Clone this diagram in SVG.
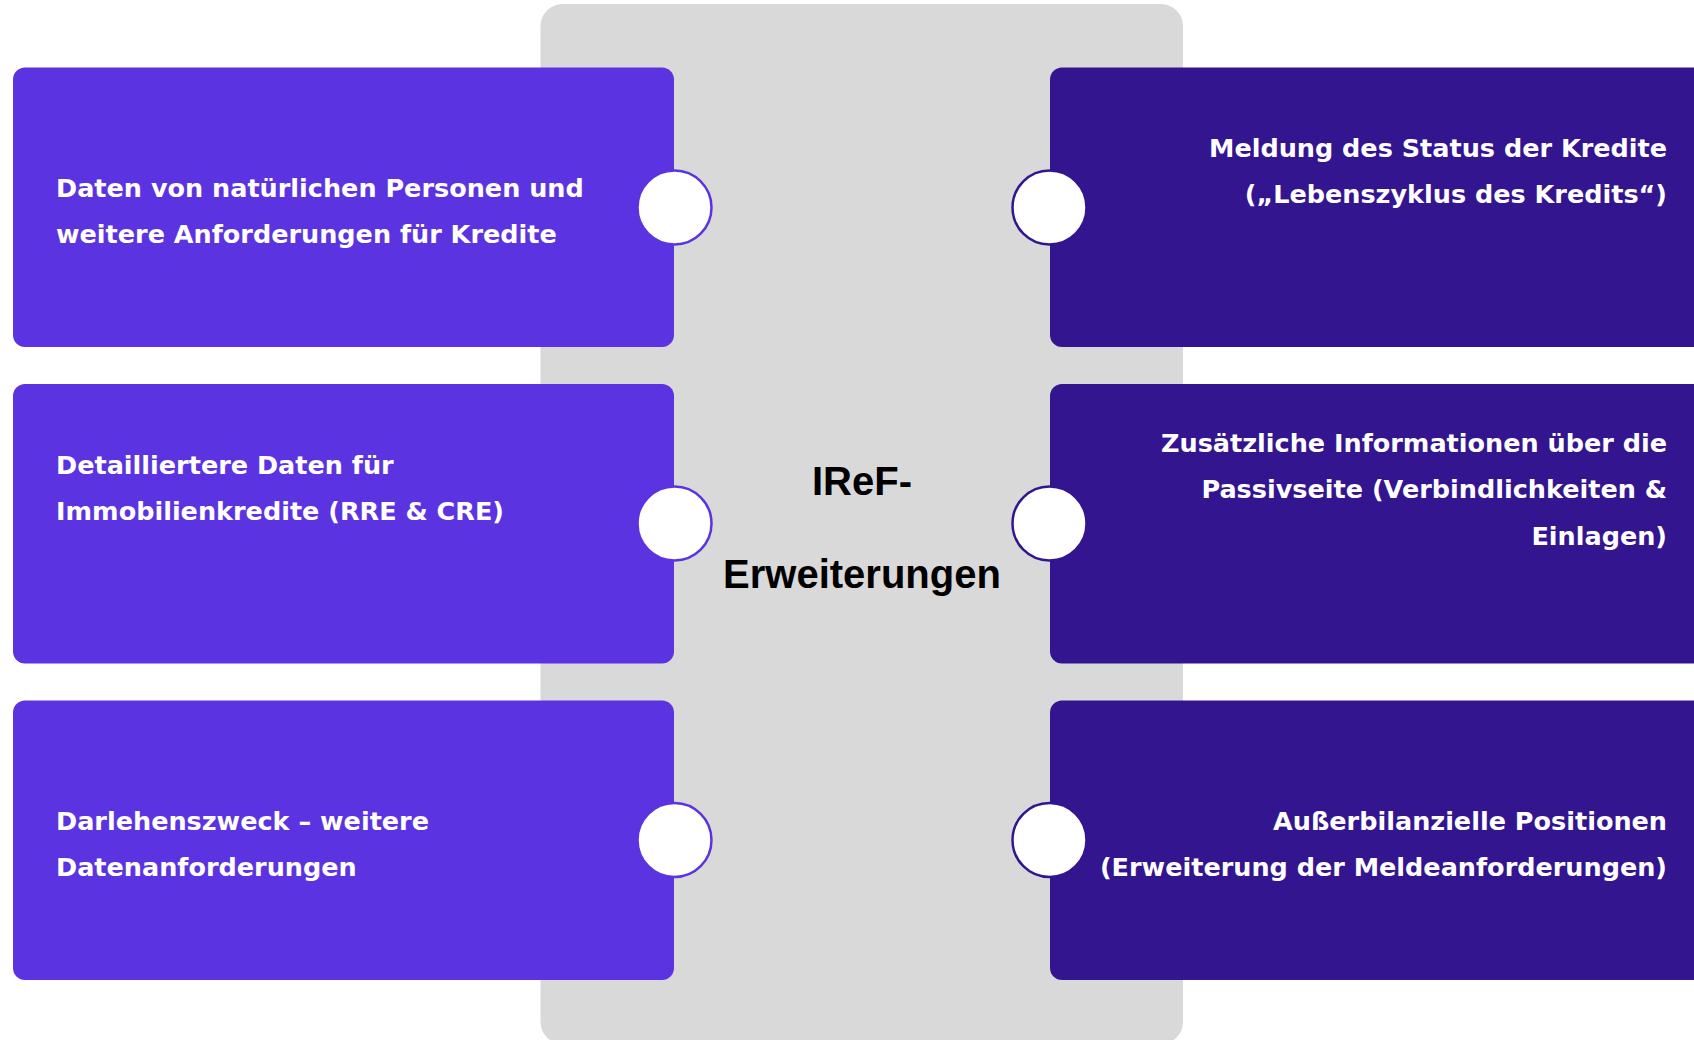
<svg xmlns="http://www.w3.org/2000/svg" width="1694" height="1040" viewBox="0 0 1694 1040">
  <style>
    .boxL { fill: #5C33E1; }
    .boxR { fill: #331590; }
    .dotL { fill: #FFFFFF; stroke: #5C33E1; stroke-width: 2.5; }
    .dotR { fill: #FFFFFF; stroke: #331590; stroke-width: 2.5; }
    .t { font-family: "DejaVu Sans", "Liberation Sans", sans-serif; font-weight: 700; font-size: 25.5px; fill: #FFFFFF; }
    .tl { text-anchor: start; }
    .tr { text-anchor: end; }
    .center { font-family: "Liberation Sans", Arial, sans-serif; font-weight: 700; font-size: 40px; fill: #000000; text-anchor: middle; }
  </style>
  <rect width="1694" height="1040" fill="#FFFFFF"/>
  <g id="hub">
    <rect x="540.5" y="4" width="642.5" height="1040" rx="22" fill="#D9D9D9"/>
    <text class="center" x="862" y="495">IReF-</text>
    <text class="center" x="862" y="588">Erweiterungen</text>
  </g>
  <g id="connectors"/>
  <g id="node-left-1">
    <rect class="boxL" x="13" y="67.5" width="661" height="279.5" rx="12"/>
    <circle class="dotL" cx="674.5" cy="207.5" r="37"/>
    <text class="t tl" x="56" y="196.5">Daten von natürlichen Personen und</text>
    <text class="t tl" x="56" y="242.5">weitere Anforderungen für Kredite</text>
  </g>
  <g id="node-left-2">
    <rect class="boxL" x="13" y="384" width="661" height="279.5" rx="12"/>
    <circle class="dotL" cx="674.5" cy="523.5" r="37"/>
    <text class="t tl" x="56" y="474">Detailliertere Daten für</text>
    <text class="t tl" x="56" y="520">Immobilienkredite (RRE &amp; CRE)</text>
  </g>
  <g id="node-left-3">
    <rect class="boxL" x="13" y="700.5" width="661" height="279.5" rx="12"/>
    <circle class="dotL" cx="674.5" cy="840" r="37"/>
    <text class="t tl" x="56" y="830">Darlehenszweck – weitere</text>
    <text class="t tl" x="56" y="876">Datenanforderungen</text>
  </g>
  <g id="node-right-1">
    <rect class="boxR" x="1050" y="67.5" width="670" height="279.5" rx="12"/>
    <circle class="dotR" cx="1049.5" cy="207.5" r="37"/>
    <text class="t tr" x="1667" y="157">Meldung des Status der Kredite</text>
    <text class="t tr" x="1667" y="203">(„Lebenszyklus des Kredits“)</text>
  </g>
  <g id="node-right-2">
    <rect class="boxR" x="1050" y="384" width="670" height="279.5" rx="12"/>
    <circle class="dotR" cx="1049.5" cy="523.5" r="37"/>
    <text class="t tr" x="1667" y="451.5">Zusätzliche Informationen über die</text>
    <text class="t tr" x="1667" y="498">Passivseite (Verbindlichkeiten &amp;</text>
    <text class="t tr" x="1667" y="544.5">Einlagen)</text>
  </g>
  <g id="node-right-3">
    <rect class="boxR" x="1050" y="700.5" width="670" height="279.5" rx="12"/>
    <circle class="dotR" cx="1049.5" cy="840" r="37"/>
    <text class="t tr" x="1667" y="830">Außerbilanzielle Positionen</text>
    <text class="t tr" x="1667" y="876">(Erweiterung der Meldeanforderungen)</text>
  </g>
</svg>
